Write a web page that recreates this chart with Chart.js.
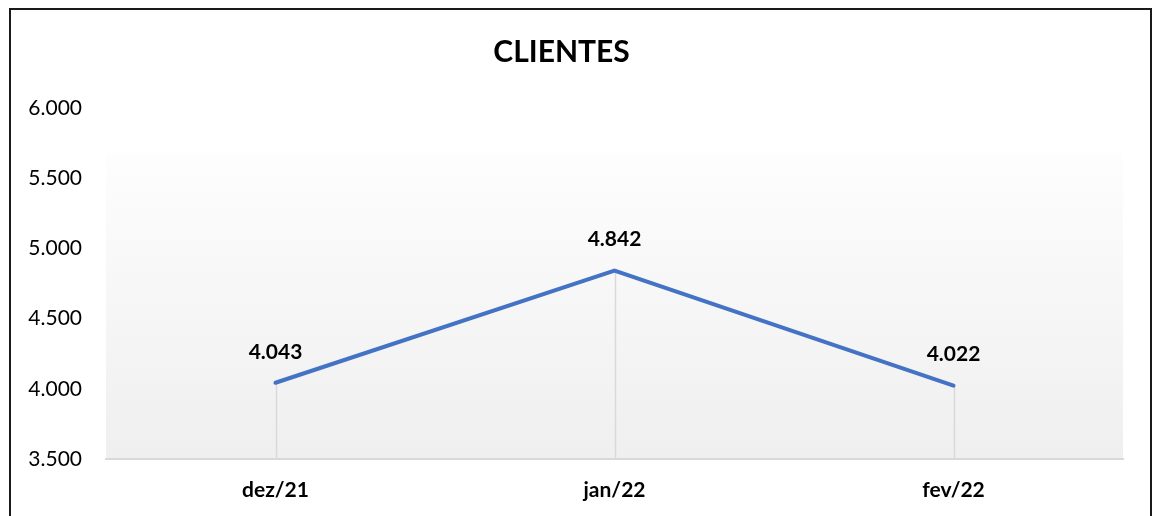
<!DOCTYPE html>
<html>
<head>
<meta charset="utf-8">
<script src="https://cdn.jsdelivr.net/npm/chart.js@4"></script>
<style>
  html, body { margin: 0; padding: 0; background: #ffffff; }
  #wrap { position: relative; width: 1157px; height: 516px; }
  canvas { display: block; }
</style>
</head>
<body>
<div id="wrap"><canvas id="c" width="1157" height="516"></canvas></div>
<script>
const chartTitle = 'CLIENTES';
const categories = ['dez/21', 'jan/22', 'fev/22'];
const clientes = [4043, 4842, 4022];
const yMin = 3500;
const yMax = 6000;
const yStep = 500;

function fmt(v) {
  const s = Math.round(v).toString();
  return s.replace(/\B(?=(\d{3})+(?!\d))/g, '.');
}

const FONT = 'Lato, "Open Sans", "Liberation Sans", sans-serif';

const bgPlugin = {
  id: 'bg',
  beforeDraw(chart) {
    const { ctx, chartArea: a } = chart;
    const g = ctx.createLinearGradient(0, a.top, 0, a.bottom);
    g.addColorStop(0, '#ffffff');
    g.addColorStop(0.12, '#ffffff');
    g.addColorStop(0.14, '#fdfdfd');
    g.addColorStop(1, '#efefef');
    ctx.save();
    ctx.fillStyle = g;
    ctx.fillRect(a.left, a.top, a.right - a.left, a.bottom - a.top);
    ctx.restore();
  },
  beforeDatasetsDraw(chart) {
    const { ctx, chartArea: a } = chart;
    const meta = chart.getDatasetMeta(0);
    ctx.save();
    ctx.strokeStyle = '#d9d9d9';
    ctx.lineWidth = 1.5;
    meta.data.forEach(p => {
      ctx.beginPath();
      ctx.moveTo(Math.round(p.x) + 0.5, p.y);
      ctx.lineTo(Math.round(p.x) + 0.5, a.bottom);
      ctx.stroke();
    });
    ctx.restore();
  },
  afterDatasetsDraw(chart) {
    const { ctx } = chart;
    const meta = chart.getDatasetMeta(0);
    const data = chart.data.datasets[0].data;
    ctx.save();
    ctx.fillStyle = '#000000';
    ctx.font = 'bold 21px ' + FONT;
    ctx.textAlign = 'center';
    ctx.textBaseline = 'middle';
    meta.data.forEach((p, i) => {
      ctx.fillText(fmt(data[i]), p.x, p.y - 31);
    });
    ctx.restore();
  },
  afterDraw(chart) {
    const { ctx } = chart;
    ctx.save();
    ctx.strokeStyle = '#1a1a1a';
    ctx.lineWidth = 2;
    ctx.strokeRect(10, 9, 1141, 600);
    ctx.restore();
  }
};

new Chart(document.getElementById('c'), {
  type: 'line',
  data: {
    labels: categories,
    datasets: [{
      label: chartTitle,
      data: clientes,
      borderColor: '#4472C4',
      borderWidth: 4,
      pointRadius: 0,
      pointHoverRadius: 0,
      tension: 0,
      fill: false,
      borderCapStyle: 'round'
    }]
  },
  options: {
    responsive: false,
    animation: false,
    events: [],
    layout: { padding: { left: 0, right: 34, top: 0, bottom: 0 } },
    plugins: {
      legend: { display: false },
      tooltip: { enabled: false },
      title: {
        display: true,
        text: chartTitle,
        color: '#000000',
        font: { family: FONT, size: 30, weight: 'bold', lineHeight: 1.2 },
        padding: { top: 34, bottom: 38 }
      }
    },
    scales: {
      x: {
        type: 'category',
        offset: true,
        grid: { display: false, drawTicks: false },
        border: { display: true, color: '#d9d9d9', width: 2 },
        ticks: {
          color: '#000000',
          font: { family: FONT, size: 21, weight: 'bold' },
          padding: 19
        },
        afterFit(scale) { scale.height = 57; }
      },
      y: {
        min: yMin,
        max: yMax,
        grid: { display: false, drawTicks: false },
        border: { display: false },
        ticks: {
          stepSize: yStep,
          color: '#000000',
          font: { family: FONT, size: 21 },
          padding: 24,
          callback: v => fmt(v)
        },
        afterFit(scale) { scale.width = 106; }
      }
    }
  },
  plugins: [bgPlugin]
});
</script>
</body>
</html>
